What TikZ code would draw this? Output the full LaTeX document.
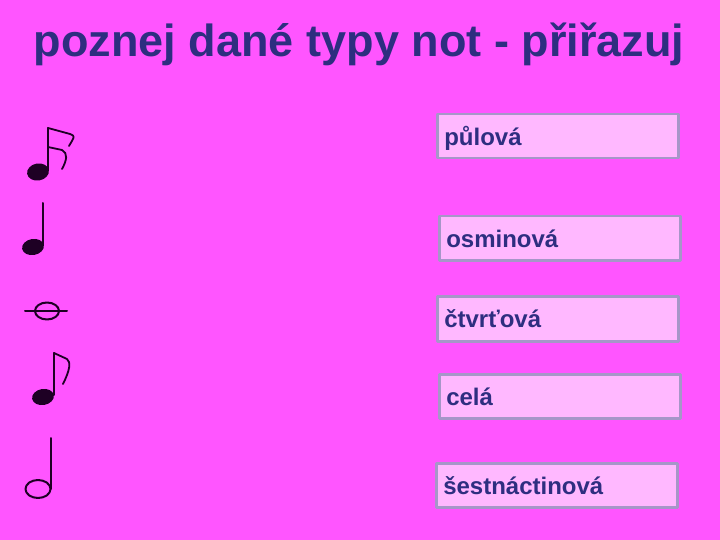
\documentclass[tikz,border=0pt]{standalone}
\usepackage{fontspec}
\setsansfont{Liberation Sans}
\usetikzlibrary{positioning}

\definecolor{bgpink}{RGB}{255,85,255}
\definecolor{boxfill}{RGB}{255,184,255}
\definecolor{boxline}{RGB}{166,150,200}
\definecolor{inkblue}{RGB}{46,46,128}
\definecolor{noteink}{RGB}{30,0,36}

\begin{document}
\begin{tikzpicture}[x=1pt, y=-1pt, line cap=round, line join=round]

		%======================
		% STYLES
		%======================
		\tikzset{
			title/.style={font=\sffamily\bfseries\fontsize{45}{54}\selectfont, text=inkblue, inner sep=0pt, anchor=base},
			namebox/.style={draw=boxline, fill=boxfill, line width=2.5pt, anchor=north west,
				minimum height=44pt, text width=227pt, inner xsep=7pt, align=left,
				text height=22pt, text depth=4pt,
				font=\sffamily\bfseries\fontsize{24}{28}\selectfont, text=inkblue},
			stem/.style={line width=2pt, draw=noteink},
			flag/.style={line width=1.8pt, draw=noteink},
			headfill/.style={fill=noteink},
			headopen/.style={line width=2pt, draw=noteink}
		}

		% background
		\path[use as bounding box, fill=bgpink] (0,0) rectangle (720,540);

		% title
		\node[title] (title) at (359,57) {poznej dané typy not - přiřazuj};

		%======================
		% NOTES (left column)
		%======================

		% sixteenth
		\fill[headfill, rotate around={10:(38,172)}] (38,172) ellipse [x radius=11pt, y radius=8.5pt];
		\draw[stem] (48,170) -- (48,128);
		\draw[flag] (48,128) -- (70,134) .. controls (75,136) .. (69,146);
		\draw[flag] (48,147) -- (62,150) .. controls (68,153) and (67,160) .. (62,169);

		% quarter
		\fill[headfill, rotate around={10:(33,247)}] (33,247) ellipse [x radius=11pt, y radius=8pt];
		\draw[stem] (43,245) -- (43,203);

		% whole with ledger line
		\draw[headopen] (47,311) ellipse [x radius=12pt, y radius=8.5pt];
		\draw[stem] (25,311) -- (67,311);

		% eighth
		\fill[headfill, rotate around={10:(43,397)}] (43,397) ellipse [x radius=11pt, y radius=8pt];
		\draw[stem] (54,395) -- (54,353);
		\draw[flag] (54,353) -- (67,359) .. controls (71,362) and (70,370) .. (63,384);

		% half
		\draw[headopen] (38,489) ellipse [x radius=12.5pt, y radius=9pt];
		\draw[stem] (51,489) -- (51,438);

		%======================
		% NAME BOXES (right column)
		%======================
		\node[namebox] (pulova) at (436,113) {půlová};
		\node[namebox] (osminova) at (438,215) {osminová};
		\node[namebox, minimum height=45pt] (ctvrtova) at (436,295) {čtvrťová};
		\node[namebox] (cela) at (438,373) {celá};
		\node[namebox] (sestnactinova) at (435,462) {šestnáctinová};

\end{tikzpicture}
\end{document}
